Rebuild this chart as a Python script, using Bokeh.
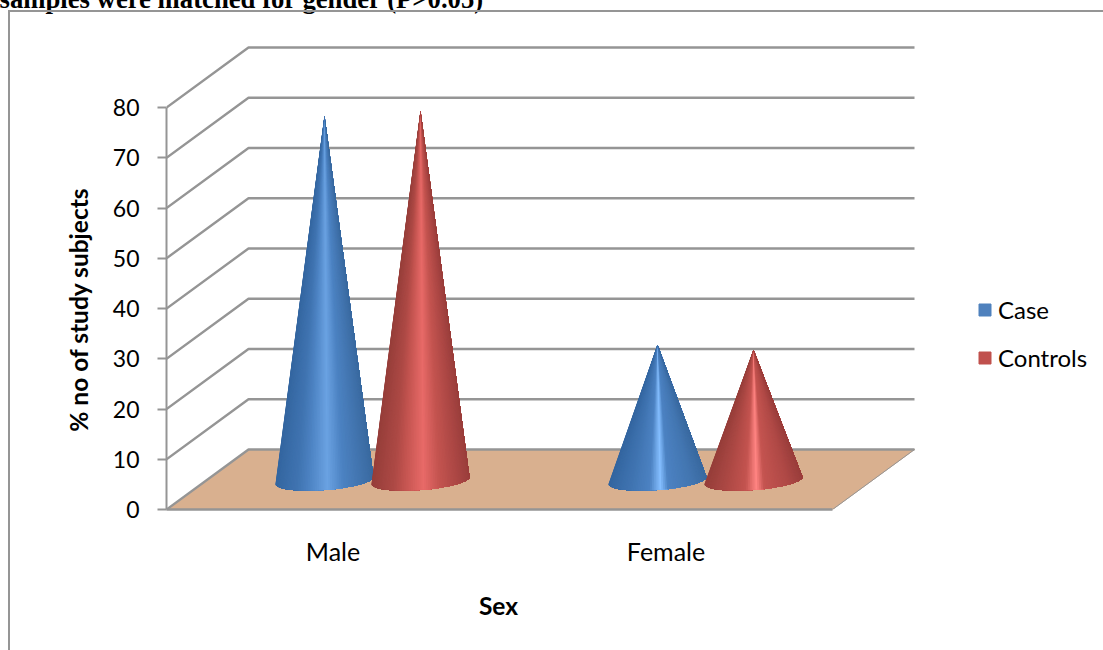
from bokeh.embed import file_html
from bokeh.resources import INLINE
from bokeh.plotting import figure
from bokeh.models import FixedTicker, Label, Legend, LegendItem, Range1d
import math
import numpy as np

# Chart values
categories = ["Male", "Female"]
series_names = ["Case", "Controls"]
case_values = [72.6, 27.0]
control_values = [73.6, 26.0]
value_ticks = [0, 10, 20, 30, 40, 50, 60, 70, 80]

# Page geometry in pixels
W, H = 1103, 650
FRAME_L, FRAME_T, FRAME_B = 166, 40, 509
PX_PER_VALUE = 5.025
PX_PER_CAT = 333.0

# Oblique projection of the chart box, in axis units
DEPTH_X = 82 / PX_PER_CAT
DEPTH_Y = 60 / PX_PER_VALUE

GRAY = "#959595"
FONT = "Lato"

# The chart area's border runs along the top and left of the canvas, outside the frame
border_css = (
    ":host { position: relative; }\n"
    ":host::after { content: ''; position: absolute; left: 8px; top: 10px; right: 0; bottom: 0;"
    f" border-left: 2.4px solid {GRAY}; border-top: 2.4px solid {GRAY};"
    " pointer-events: none; z-index: 10; }"
)

p = figure(
    width=W, height=H, output_backend="svg", toolbar_location=None,
    x_range=Range1d(0, (W - FRAME_L) / PX_PER_CAT),
    y_range=Range1d(0, (FRAME_B - FRAME_T) / PX_PER_VALUE),
    min_border_left=FRAME_L, min_border_right=0,
    min_border_top=FRAME_T, min_border_bottom=H - FRAME_B,
    x_axis_location="below", y_axis_location="left",
    stylesheets=[border_css],
)
p.outline_line_color = None
p.grid.visible = False
p.background_fill_color = "white"
p.border_fill_color = "white"

# Floor of the 3-D box
n_cat = len(categories)
p.patch([0, DEPTH_X, n_cat + DEPTH_X, n_cat], [0, DEPTH_Y, DEPTH_Y, 0],
        fill_color="#d9b08f", line_color="#d9b08f", line_width=1)

# Gridlines folded along the side wall and back wall
for v in value_ticks:
    y1 = v + DEPTH_Y
    p.line([0, DEPTH_X, n_cat + DEPTH_X], [v, y1, y1],
           line_color=GRAY, line_width=2.4)
p.line([n_cat, n_cat + DEPTH_X], [0, DEPTH_Y], line_color=GRAY, line_width=1)


def mix(stops, t):
    """Interpolate an RGB colour along a list of (position, (r, g, b)) stops."""
    pos = [s[0] for s in stops]
    rgb = [np.interp(t, pos, [s[1][i] for s in stops]) for i in range(3)]
    return "#%02x%02x%02x" % tuple(int(round(c)) for c in rgb)


def shade(dark_l, mid, peak, dark_r, spread):
    return [(-1, dark_l), (-0.55, tuple(0.5 * a + 0.5 * b for a, b in zip(dark_l, mid))),
            (-spread, mid), (0.06, peak), (0.06 + spread, mid),
            (0.7, tuple(0.5 * a + 0.5 * b for a, b in zip(dark_r, mid))), (1, dark_r)]


def draw_cone(xc, value, stops):
    """Paint a cone left to right, each layer running from the apex to the rest of the base."""
    base_y = 29 / PX_PER_VALUE
    half_w = 49 / PX_PER_CAT
    ell_h = 9.5 / PX_PER_VALUE
    tilt = 3.5 / PX_PER_VALUE
    edges = np.sin(np.linspace(-np.pi / 2, np.pi / 2, 81))
    arc_x = xc + half_w * edges
    arc_y = base_y + tilt * edges - ell_h * np.sqrt(np.clip(1 - edges ** 2, 0, 1))
    xs, ys, cols = [], [], []
    for k in range(len(edges) - 1):
        xs.append([xc] + list(arc_x[k:]))
        ys.append([base_y + value] + list(arc_y[k:]))
        cols.append(mix(stops, (edges[k] + edges[k + 1]) / 2))
    p.patches(xs, ys, fill_color=cols, line_color=None)


OFFSET = 48 / PX_PER_CAT
CONE_SHIFT = 1.5 / PX_PER_CAT
blue_shades = [shade((52, 102, 160), (76, 130, 194), (106, 162, 226), (58, 106, 160), 0.32),
               shade((52, 102, 160), (76, 130, 194), (132, 190, 255), (58, 106, 160), 0.16)]
red_shades = [shade((150, 62, 58), (196, 84, 80), (232, 106, 104), (154, 62, 60), 0.32),
              shade((150, 62, 58), (196, 84, 80), (255, 132, 130), (154, 62, 60), 0.16)]
for i, cat in enumerate(categories):
    xc = i + 0.5 + DEPTH_X / 2 - CONE_SHIFT
    draw_cone(xc - OFFSET, case_values[i], blue_shades[i])
    draw_cone(xc + OFFSET, control_values[i], red_shades[i])

# Value axis
ya = p.yaxis[0]
ya.bounds = (0, 80)
ya.ticker = FixedTicker(ticks=value_ticks)
ya.axis_line_color = GRAY
ya.axis_line_width = 2
ya.major_tick_line_color = GRAY
ya.major_tick_line_width = 2
ya.major_tick_out = 9
ya.major_tick_in = 0
ya.minor_tick_line_color = None
ya.major_label_text_font = FONT
ya.major_label_text_font_size = "23px"
ya.major_label_text_color = "black"
ya.major_label_standoff = 18

# Category axis
xa = p.xaxis[0]
xa.bounds = (0, n_cat)
xa.ticker = FixedTicker(ticks=[i + 0.5 for i in range(n_cat)])
xa.major_label_overrides = {i + 0.5: c for i, c in enumerate(categories)}
xa.axis_line_color = GRAY
xa.axis_line_width = 2.4
xa.major_tick_line_color = None
xa.minor_tick_line_color = None
xa.major_tick_out = 0
xa.major_label_standoff = 26
xa.major_label_text_font = FONT
xa.major_label_text_font_size = "25px"
xa.major_label_text_color = "black"

# Legend keys
nan = float("nan")
r_case = p.quad(left=[nan], right=[nan], top=[nan], bottom=[nan],
                fill_color="#4f81bd", line_color="#4f81bd")
r_ctrl = p.quad(left=[nan], right=[nan], top=[nan], bottom=[nan],
                fill_color="#c0504d", line_color="#c0504d")
legend = Legend(
    items=[LegendItem(label=series_names[0], renderers=[r_case]),
           LegendItem(label=series_names[1], renderers=[r_ctrl])],
    location=(811, 137), border_line_color=None, background_fill_color=None,
    glyph_width=15, glyph_height=15, label_standoff=6, spacing=19, margin=0, padding=0,
    label_text_font=FONT, label_text_font_size="24px", label_text_color="black",
)
p.add_layout(legend, "center")

# Axis titles centred on the front of the box
p.add_layout(Label(x=78, y=309, x_units="canvas", y_units="canvas",
                   text="% no of study subjects", angle=math.pi / 2,
                   text_align="center", text_baseline="middle",
                   text_font=FONT, text_font_style="bold", text_font_size="24.5px",
                   text_color="black"), "left")
p.add_layout(Label(x=498, y=605, x_units="canvas", y_units="canvas",
                   text="Sex", text_align="center", text_baseline="middle",
                   text_font=FONT, text_font_style="bold", text_font_size="24.5px",
                   text_color="black"), "below")

# Caption line running off the top of the page
p.add_layout(Label(x=-1, y=-2, x_units="canvas", y_units="canvas",
                   text="samples were matched for gender (P>0.05)",
                   text_font="Liberation Serif", text_font_style="bold",
                   text_font_size="26.7px", text_color="black",
                   text_baseline="alphabetic"), "above")

open("out.html", "w").write(file_html(p, INLINE))
